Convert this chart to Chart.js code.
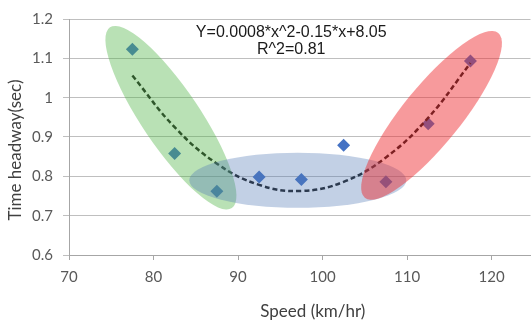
<!DOCTYPE html>
<html>
<head>
<meta charset="utf-8">
<script src="https://cdn.jsdelivr.net/npm/chart.js@4/dist/chart.umd.min.js"></script>
<style>
  html, body { margin: 0; padding: 0; background: #fff; overflow: hidden; }
  #wrap { width: 537px; height: 327px; position: relative; }
</style>
</head>
<body>
<div id="wrap"><canvas id="chart"></canvas></div>
<script>
// Data
const speeds = [77.5, 82.5, 87.5, 92.5, 97.5, 102.5, 107.5, 112.5, 117.5];
const headways = [1.123, 0.858, 0.762, 0.798, 0.792, 0.879, 0.786, 0.934, 1.093];
const xTicks = [70, 80, 90, 100, 110, 120];
const yTicks = [0.6, 0.7, 0.8, 0.9, 1, 1.1, 1.2];
const fitLabel = ['Y=0.0008*x^2-0.15*x+8.05', 'R^2=0.81'];

// Groups highlighted with ellipses (centre in data units, radii in px)
const groups = [
    { cx: 82.06, cy: 0.949, rx: 109, ry: 29, angle: 56, fill: 'rgba(80, 180, 70, 0.4)' },
    { cx: 97.07, cy: 0.790, rx: 108.5, ry: 27.5, angle: 0, fill: 'rgba(80, 120, 180, 0.35)' },
    { cx: 112.9, cy: 0.955, rx: 106, ry: 29, angle: -51, fill: 'rgba(238, 40, 45, 0.47)' }
];

// Least squares quadratic fit (same as the spreadsheet trendline)
function quadFit(xs, ys) {
    const s = [0, 0, 0, 0, 0];
    const t = [0, 0, 0];
    xs.forEach((x, i) => {
        for (let k = 0; k < 5; k++) s[k] += Math.pow(x, k);
        for (let k = 0; k < 3; k++) t[k] += Math.pow(x, k) * ys[i];
    });
    const m = [
        [s[0], s[1], s[2], t[0]],
        [s[1], s[2], s[3], t[1]],
        [s[2], s[3], s[4], t[2]]
    ];
    for (let c = 0; c < 3; c++) {
        for (let r = c + 1; r < 3; r++) {
            const f = m[r][c] / m[c][c];
            for (let k = c; k < 4; k++) m[r][k] -= f * m[c][k];
        }
    }
    const coef = [0, 0, 0];
    for (let r = 2; r >= 0; r--) {
        let v = m[r][3];
        for (let k = r + 1; k < 3; k++) v -= m[r][k] * coef[k];
        coef[r] = v / m[r][r];
    }
    return coef;
}
const coef = quadFit(speeds, headways);
const trend = speeds.map(x => coef[0] + coef[1] * x + coef[2] * x * x);

const xMax = 70 + (531 - 69) / 8.46;

// Ellipses and the equation text
const overlayPlugin = {
    id: 'overlay',
    afterDatasetsDraw(chart) {
        const ctx = chart.ctx;
        const xs = chart.scales.x, ys = chart.scales.y;
        ctx.save();
        groups.forEach(g => {
            ctx.beginPath();
            ctx.ellipse(xs.getPixelForValue(g.cx), ys.getPixelForValue(g.cy),
                g.rx, g.ry, g.angle * Math.PI / 180, 0, Math.PI * 2);
            ctx.fillStyle = g.fill;
            ctx.fill();
        });
        ctx.fillStyle = '#1a1a1a';
        ctx.font = '16px "Liberation Sans", Arial, sans-serif';
        ctx.textAlign = 'center';
        ctx.textBaseline = 'middle';
        ctx.fillText(fitLabel[0], xs.getPixelForValue(96.3), ys.getPixelForValue(1.166));
        ctx.fillText(fitLabel[1], xs.getPixelForValue(96.3), ys.getPixelForValue(1.121));
        ctx.restore();
    }
};

const ctx = document.getElementById('chart').getContext('2d');
new Chart(ctx, {
    type: 'scatter',
    data: {
        datasets: [
            {
                label: 'Trend',
                type: 'line',
                data: speeds.map((x, i) => ({ x: x, y: trend[i] })),
                borderColor: '#1a1a1a',
                borderWidth: 2.5,
                borderDash: [5, 3],
                pointRadius: 0,
                tension: 0.4,
                fill: false
            },
            {
                label: 'Time headway',
                data: speeds.map((x, i) => ({ x: x, y: headways[i] })),
                pointStyle: 'rectRot',
                pointRadius: 6.5,
                backgroundColor: '#4472C4',
                borderColor: '#4472C4',
                borderWidth: 0
            }
        ]
    },
    options: {
        responsive: true,
        maintainAspectRatio: false,
        animation: false,
        layout: { padding: { top: 15, left: 0, right: 0, bottom: 0 } },
        plugins: {
            legend: { display: false },
            tooltip: { enabled: false }
        },
        scales: {
            x: {
                type: 'linear',
                min: 70,
                max: xMax,
                afterBuildTicks: s => { s.ticks = xTicks.map(v => ({ value: v })); },
                ticks: {
                    color: '#595959',
                    font: { family: 'Lato', size: 15 },
                    padding: 8,
                    maxRotation: 0,
                    callback: v => String(v)
                },
                grid: { drawOnChartArea: false, tickLength: 5, color: '#a6a6a6' },
                border: { color: '#a6a6a6' },
                title: {
                    display: true,
                    // leading spaces nudge the title right like the original
                    text: '      Speed (km/hr)',
                    color: '#404040',
                    font: { family: 'Lato', size: 17 },
                    padding: { top: 0, bottom: 5 }
                },
                afterFit: s => { s.height = 72; }
            },
            y: {
                min: 0.6,
                max: 1.2,
                afterBuildTicks: s => { s.ticks = yTicks.map(v => ({ value: v })); },
                ticks: {
                    color: '#595959',
                    font: { family: 'Lato', size: 15 },
                    padding: 10,
                    callback: v => String(+v.toFixed(1))
                },
                grid: { color: '#bfbfbf', tickLength: 6 },
                border: { color: '#a6a6a6' },
                title: {
                    display: true,
                    // trailing spaces nudge the rotated title down like the original
                    text: 'Time headway(sec)      ',
                    color: '#404040',
                    font: { family: 'Lato', size: 17 },
                    padding: { top: 5, bottom: 0 }
                },
                afterFit: s => { s.width = 69; }
            }
        }
    },
    plugins: [overlayPlugin]
});
</script>
</body>
</html>
